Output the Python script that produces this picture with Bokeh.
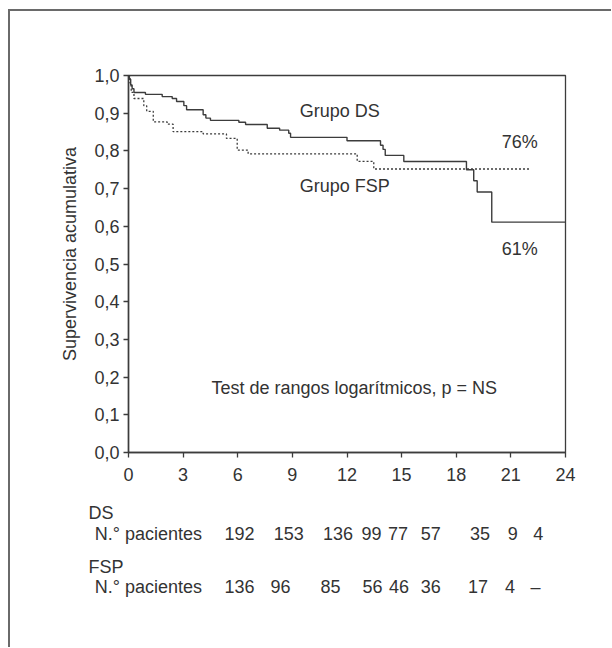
from bokeh.plotting import figure
from bokeh.layouts import column
from bokeh.models import Range1d, FixedTicker, CustomJSTickFormatter, Label, ColumnDataSource
from bokeh.core.properties import value
from bokeh.embed import file_html
from bokeh.resources import INLINE

# ---- data ----
ds_t = [0, 0.05, 0.12, 0.2, 0.3, 0.93, 1.85, 2.4, 2.64, 3.04, 3.19, 4.1, 4.25, 4.5, 6.06, 6.43, 7.62, 8.3, 8.8, 8.9,
        12.0, 13.84, 13.98, 14.1, 15.12, 18.56, 18.96, 19.15, 19.95, 24.0]
ds_s = [1.0, 0.99, 0.975, 0.965, 0.955, 0.95, 0.944, 0.939, 0.931, 0.92, 0.909, 0.896, 0.887, 0.881, 0.876, 0.870, 0.860, 0.855, 0.847, 0.836,
        0.827, 0.815, 0.804, 0.788, 0.772, 0.750, 0.721, 0.691, 0.611, 0.611]

fsp_t = [0, 0.08, 0.15, 0.3, 0.84, 1.0, 1.36, 2.12, 2.45, 4.1, 5.38, 5.97, 6.57, 12.56, 13.47, 22.08]
fsp_s = [1.0, 0.98, 0.955, 0.939, 0.92, 0.905, 0.877, 0.871, 0.851, 0.845, 0.833, 0.802, 0.792, 0.772, 0.752, 0.752]

x_ticks = [0, 3, 6, 9, 12, 15, 18, 21, 24]
y_ticks = [0.0, 0.1, 0.2, 0.3, 0.4, 0.5, 0.6, 0.7, 0.8, 0.9, 1.0]

ds_counts = ["192", "153", "136", "99", "77", "57", "35", "9", "4"]
fsp_counts = ["136", "96", "85", "56", "46", "36", "17", "4", "\u2013"]

# ---- layout (positions) ----
ds_count_x = [6.1, 8.8, 11.5, 13.35, 14.8, 16.6, 19.3, 21.1, 22.5]
fsp_count_x = [6.1, 8.35, 11.1, 13.4, 14.85, 16.6, 19.2, 20.95, 22.35]
row_y = [20, 41, 74, 94]   # pixel offsets below the chart

FONT = "Liberation Sans"
FS = "18px"
TXT = "#333333"
LINE = "#3c3c3c"
PX_PER_MONTH = 437 / 24.0

W = 601
p = figure(width=W, height=481, x_range=Range1d(0, 24), y_range=Range1d(0, 1),
           output_backend="svg", toolbar_location=None,
           min_border_left=118, min_border_right=W - 118 - 437, min_border_top=64, min_border_bottom=40)

p.xgrid.visible = False
p.ygrid.visible = False
p.outline_line_color = LINE
p.outline_line_width = 1.3

p.xaxis.ticker = FixedTicker(ticks=x_ticks)
p.yaxis.ticker = FixedTicker(ticks=y_ticks)
p.yaxis.formatter = CustomJSTickFormatter(code="return tick.toFixed(1).replace('.', ',');")
for ax in (p.xaxis, p.yaxis):
    ax.minor_tick_line_color = None
    ax.major_tick_in = 0
    ax.major_tick_out = 5
    ax.major_tick_line_color = LINE
    ax.major_tick_line_width = 1.3
    ax.axis_line_color = LINE
    ax.axis_line_width = 1.5
    ax.major_label_text_font = FONT
    ax.major_label_text_font_size = FS
    ax.major_label_text_color = TXT
p.xaxis.major_label_standoff = 10
p.yaxis.major_label_standoff = 4
p.yaxis.axis_label = "\u00a0\u00a0\u00a0\u00a0Supervivencia acumulativa"
p.yaxis.axis_label_text_font = FONT
p.yaxis.axis_label_text_font_size = FS
p.yaxis.axis_label_text_font_style = "normal"
p.yaxis.axis_label_text_color = TXT
p.yaxis.axis_label_standoff = 11

p.step(ds_t, ds_s, mode="after", line_color=LINE, line_width=1.4)
p.step(fsp_t, fsp_s, mode="after", line_color=LINE, line_width=1.3, line_dash="2 2")


def lab(x, y, text, align="left"):
    p.add_layout(Label(x=x, y=y, text=text, text_font=FONT, text_font_size=FS,
                       text_color=TXT, text_align=align, text_baseline="middle"))


lab(9.4, 0.907, "Grupo DS")
lab(9.4, 0.706, "Grupo FSP")
lab(20.5, 0.823, "76%")
lab(20.5, 0.541, "61%")
lab(12.4, 0.172, "Test de rangos logar\u00edtmicos, p = NS", align="center")

# ---- table of patients at risk (second figure sharing the month scale) ----
H2 = 155
t_start = -118 / PX_PER_MONTH
t_end = t_start + W / PX_PER_MONTH
tf = figure(width=W, height=H2, x_range=Range1d(t_start, t_end), y_range=Range1d(H2, 0),
            output_backend="svg", toolbar_location=None, x_axis_location=None, y_axis_location=None,
            min_border=0)
tf.xgrid.visible = False
tf.ygrid.visible = False
tf.outline_line_color = None
for fig in (p, tf):
    if "frame_align" in fig.properties():
        fig.frame_align = False

head_src = ColumnDataSource(dict(x=[-2.2, -1.85, -2.2, -1.85],
                                 y=row_y,
                                 text=["DS", "N.\u00b0 pacientes", "FSP", "N.\u00b0 pacientes"]))
tf.text(x="x", y="y", text="text", source=head_src, text_font=value(FONT), text_font_size=FS,
        text_color=TXT, text_align="left", text_baseline="middle")
cnt_src = ColumnDataSource(dict(x=ds_count_x + fsp_count_x,
                                y=[row_y[1]] * len(ds_counts) + [row_y[3]] * len(fsp_counts),
                                text=ds_counts + fsp_counts))
tf.text(x="x", y="y", text="text", source=cnt_src, text_font=value(FONT), text_font_size=FS,
        text_color=TXT, text_align="center", text_baseline="middle")

layout = column(p, tf, spacing=0,
                styles={"margin-left": "8px", "margin-top": "9px",
                        "border-left": "2px solid #6a6a6a", "border-top": "2px solid #6a6a6a"})

open("out.html", "w").write(file_html(layout, INLINE))
